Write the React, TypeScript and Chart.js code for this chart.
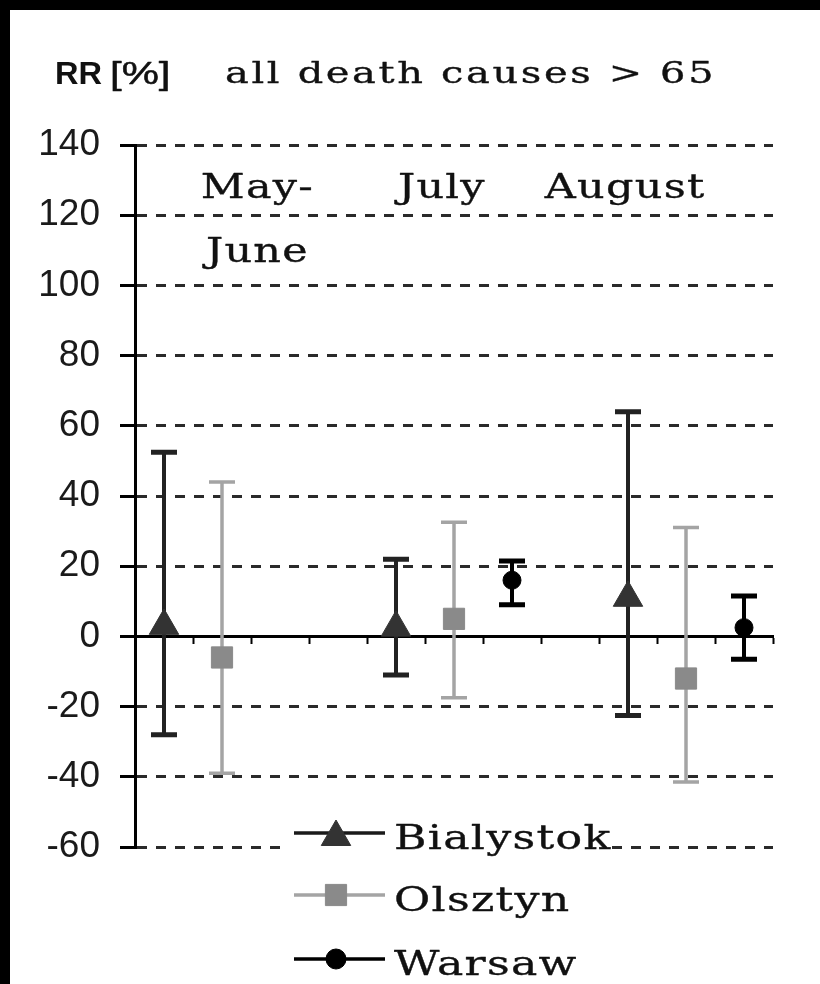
import React, { useEffect, useRef } from "react";
import { Chart, registerables } from "chart.js";

Chart.register(...registerables);

// ---- data ----
const categories = [
  "May-June Bialystok", "May-June Olsztyn", "May-June Warsaw", "gap 1",
  "July Bialystok", "July Olsztyn", "July Warsaw", "gap 2",
  "August Bialystok", "August Olsztyn", "August Warsaw",
];
const seriesNames = ["Bialystok", "Olsztyn", "Warsaw"];

const bialystokRR = [3, null, null, null, 2.5, null, null, null, 11, null, null];
const bialystokUpper = [52.5, null, null, null, 22, null, null, null, 64, null, null];
const bialystokLower = [-28, null, null, null, -11, null, null, null, -22.5, null, null];

const olsztynRR = [null, -6, null, null, null, 5, null, null, null, -12, null];
const olsztynUpper = [null, 44, null, null, null, 32.5, null, null, null, 31, null];
const olsztynLower = [null, -39, null, null, null, -17.5, null, null, null, -41.5, null];

const warsawRR = [null, null, null, null, null, null, 16, null, null, null, 2.5];
const warsawUpper = [null, null, null, null, null, null, 21.5, null, null, null, 11.5];
const warsawLower = [null, null, null, null, null, null, 9, null, null, null, -6.5];

const periodLabels = [["May-", "June"], ["July"], ["August"]];
const yMin = -60;
const yMax = 140;
const yStep = 20;
const titleUnit = ["RR", "[%]"];
const titleText = "all death causes > 65";

// ---- styles ----
const SERIF = "'DejaVu Serif', serif";
const SANS = "'Liberation Sans', Arial, sans-serif";
const seriesStyle = [
  { marker: "triangle", fill: "#333333", bar: "#222222", line: "#1a1a1a", radius: 17, barW: 4, cap: 5 },
  { marker: "rect", fill: "#8a8a8a", bar: "#a4a4a4", line: "#a4a4a4", radius: 15, barW: 3.5, cap: 3.5 },
  { marker: "circle", fill: "#000000", bar: "#000000", line: "#000000", radius: 9, barW: 4, cap: 5 },
];
const errorUpper = [bialystokUpper, olsztynUpper, warsawUpper];
const errorLower = [bialystokLower, olsztynLower, warsawLower];

function drawText(ctx: CanvasRenderingContext2D, text: string, x: number, y: number, font: string, spacing: number, sx = 1, color = "#111", bold = 0) {
  ctx.save();
  ctx.font = font;
  (ctx as any).letterSpacing = spacing + "px";
  ctx.fillStyle = color;
  ctx.strokeStyle = color;
  ctx.textAlign = "left";
  ctx.textBaseline = "alphabetic";
  ctx.translate(x, y);
  ctx.scale(sx, 1);
  ctx.fillText(text, 0, 0);
  if (bold > 0) {
    ctx.lineWidth = bold;
    ctx.lineJoin = "round";
    ctx.strokeText(text, 0, 0);
  }
  ctx.restore();
}

function textWidth(ctx: CanvasRenderingContext2D, text: string, font: string, spacing: number, sx = 1) {
  ctx.save();
  ctx.font = font;
  (ctx as any).letterSpacing = spacing + "px";
  const w = (ctx.measureText(text).width - spacing) * sx;
  ctx.restore();
  return w;
}

function drawMarker(ctx: CanvasRenderingContext2D, kind: string, x: number, y: number, r: number, color: string) {
  ctx.save();
  ctx.fillStyle = color;
  ctx.strokeStyle = color;
  ctx.lineWidth = 1;
  ctx.beginPath();
  if (kind === "triangle") {
    ctx.moveTo(x, y - r);
    ctx.lineTo(x + 0.866 * r, y + 0.5 * r);
    ctx.lineTo(x - 0.866 * r, y + 0.5 * r);
    ctx.closePath();
  } else if (kind === "rect") {
    const s = r * Math.SQRT1_2;
    ctx.rect(x - s, y - s, 2 * s, 2 * s);
  } else {
    ctx.arc(x, y, r, 0, Math.PI * 2);
  }
  ctx.fill();
  ctx.stroke();
  ctx.restore();
}

const errorBarPlugin = {
  id: "errorBars",
  beforeDatasetsDraw(chart: any) {
    const ctx = chart.ctx as CanvasRenderingContext2D;
    const y = chart.scales.y;
    chart.data.datasets.forEach((ds: any, i: number) => {
      const meta = chart.getDatasetMeta(i);
      const st = seriesStyle[i];
      ds.data.forEach((v: number | null, j: number) => {
        if (v === null) return;
        const up = errorUpper[i][j];
        const lo = errorLower[i][j];
        if (up === null || lo === null) return;
        const x = meta.data[j].x;
        const yu = y.getPixelForValue(up);
        const yl = y.getPixelForValue(lo);
        ctx.save();
        ctx.strokeStyle = st.bar;
        ctx.lineWidth = st.barW;
        ctx.beginPath();
        ctx.moveTo(x, yu);
        ctx.lineTo(x, yl);
        ctx.stroke();
        ctx.lineWidth = st.cap;
        ctx.beginPath();
        ctx.moveTo(x - 13, yu);
        ctx.lineTo(x + 13, yu);
        ctx.moveTo(x - 13, yl);
        ctx.lineTo(x + 13, yl);
        ctx.stroke();
        ctx.restore();
      });
    });
  },
};

const SERIF_SX = 1.3;
const SERIF_BOLD = 0.35;

const decorPlugin = {
  id: "decor",
  afterDraw(chart: any) {
    const ctx = chart.ctx as CanvasRenderingContext2D;
    const xs = chart.scales.x;
    const ys = chart.scales.y;

    // title
    drawText(ctx, titleUnit[0], 45, 74, `bold 31px ${SANS}`, 0, 1.05, "#111");
    drawText(ctx, titleUnit[1], 100, 74, `31px ${SANS}`, 0, 1.35, "#111", 0.5);
    drawText(ctx, titleText, 215, 73, `30px ${SERIF}`, 2, 1.33, "#111", SERIF_BOLD);

    // period labels
    const periodAt = [1.6, 4.78, 7.94];
    const mfont = `33px ${SERIF}`;
    periodLabels.forEach((lines, k) => {
      const cx = xs.getPixelForValue(periodAt[k]);
      lines.forEach((ln, li) => {
        const w = textWidth(ctx, ln, mfont, 1, SERIF_SX);
        const by = ys.getPixelForValue(125) + li * 64;
        drawText(ctx, ln, cx - w / 2, by, mfont, 1, SERIF_SX, "#111", SERIF_BOLD);
      });
    });

    // legend
    ctx.save();
    ctx.fillStyle = "#ffffff";
    ctx.fillRect(273, 795, 329, 179);
    ctx.restore();
    const rows = [823, 885, 949];
    seriesNames.forEach((name, i) => {
      const st = seriesStyle[i];
      const ry = rows[i];
      ctx.save();
      ctx.strokeStyle = st.line;
      ctx.lineWidth = 3.5;
      ctx.beginPath();
      ctx.moveTo(284, ry);
      ctx.lineTo(375, ry);
      ctx.stroke();
      ctx.restore();
      const my = st.marker === "triangle" ? ry + 4 : ry;
      const mr = st.marker === "circle" ? 10 : st.radius;
      drawMarker(ctx, st.marker, 326, my, mr, st.fill);
      drawText(ctx, name, 384, ry + 16, `34px ${SERIF}`, 1, SERIF_SX, "#111", SERIF_BOLD);
    });
  },
};

export default function App() {
  const ref = useRef<HTMLCanvasElement>(null);
  useEffect(() => {
    document.body.style.margin = "0";
    const datasets = [bialystokRR, olsztynRR, warsawRR].map((d, i) => ({
      label: seriesNames[i],
      data: d,
      showLine: false,
      pointStyle: seriesStyle[i].marker,
      pointRadius: seriesStyle[i].radius,
      pointHoverRadius: seriesStyle[i].radius,
      pointBackgroundColor: seriesStyle[i].fill,
      pointBorderColor: seriesStyle[i].fill,
      pointBorderWidth: 1,
      borderColor: seriesStyle[i].line,
      backgroundColor: seriesStyle[i].fill,
    }));
    const chart = new Chart(ref.current!, {
      type: "line",
      data: { labels: categories, datasets },
      options: {
        animation: false,
        responsive: false,
        devicePixelRatio: 1,
        events: [],
        layout: { padding: { top: 135, bottom: 137, left: 0, right: 47 } },
        plugins: { legend: { display: false }, tooltip: { enabled: false }, title: { display: false } },
        scales: {
          x: {
            type: "category",
            position: { y: 0 },
            offset: true,
            ticks: { display: false, autoSkip: false },
            grid: {
              offset: true,
              drawOnChartArea: false,
              drawTicks: true,
              tickLength: 6,
              tickWidth: 2,
              tickColor: "#000",
            },
            border: { display: true, color: "#000", width: 3 },
          },
          y: {
            type: "linear",
            position: "left",
            min: yMin,
            max: yMax,
            ticks: {
              stepSize: yStep,
              padding: 20,
              color: "#1a1a1a",
              font: { family: "'Liberation Sans', Arial, sans-serif", size: 37 },
            },
            grid: {
              color: "#2a2a2a",
              lineWidth: 3,
              tickLength: 15,
              tickWidth: 3,
              tickColor: "#000",
            },
            border: { display: true, color: "#000", width: 3, dash: [10, 9] },
            afterFit: (scale: any) => {
              scale.width = 125;
            },
          },
        },
      },
      plugins: [errorBarPlugin, decorPlugin],
    } as any);
    return () => chart.destroy();
  }, []);
  return (
    <div style={{ width: 820, height: 984, background: "#000", position: "relative", overflow: "hidden" }}>
      <div style={{ position: "absolute", left: 10, top: 10, width: 810, height: 974, background: "#fff" }}>
        <canvas ref={ref} width={810} height={974} style={{ display: "block" }} />
      </div>
    </div>
  );
}
